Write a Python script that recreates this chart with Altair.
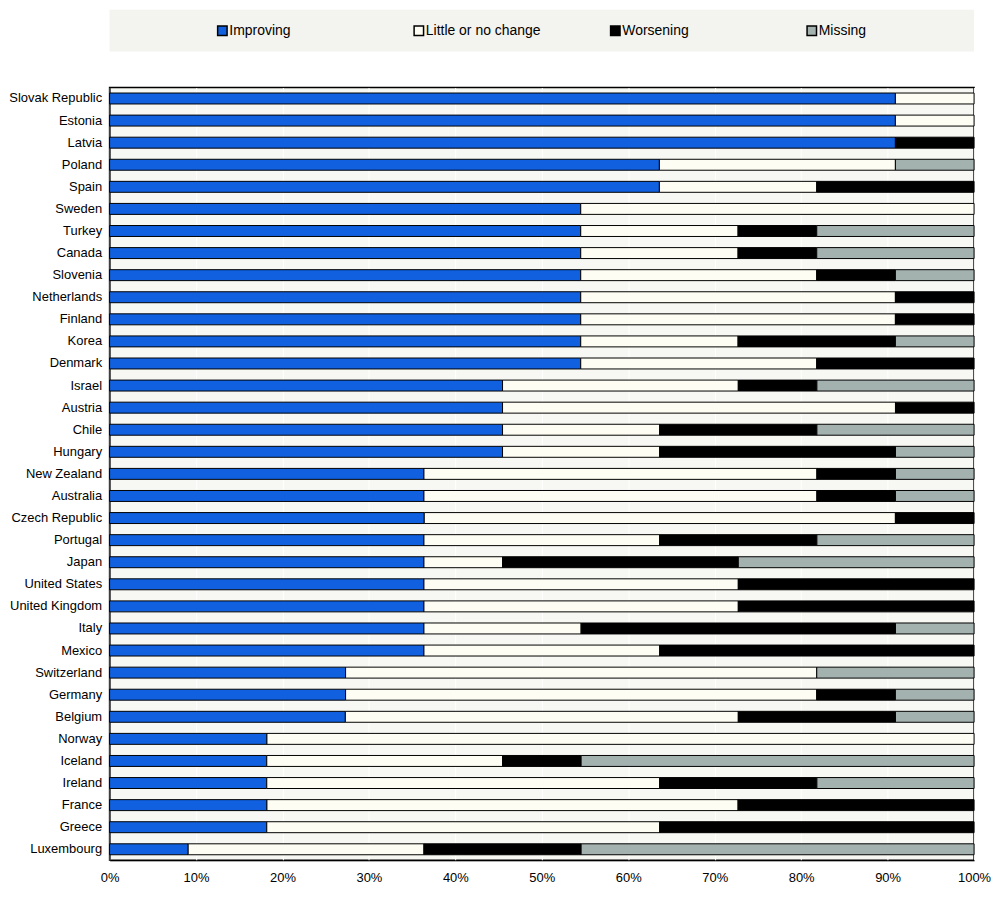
import altair as alt
import pandas as pd

countries = ["Slovak Republic", "Estonia", "Latvia", "Poland", "Spain", "Sweden", "Turkey",
             "Canada", "Slovenia", "Netherlands", "Finland", "Korea", "Denmark", "Israel",
             "Austria", "Chile", "Hungary", "New Zealand", "Australia", "Czech Republic",
             "Portugal", "Japan", "United States", "United Kingdom", "Italy", "Mexico",
             "Switzerland", "Germany", "Belgium", "Norway", "Iceland", "Ireland", "France",
             "Greece", "Luxembourg"]

categories = ["Improving", "Little or no change", "Worsening", "Missing"]
colors = ["#1060e0", "#fdfdf3", "#000000", "#a3b1af"]

improving = [90.9, 90.9, 90.9, 63.6, 63.6, 54.5, 54.5, 54.5, 54.5, 54.5, 54.5, 54.5, 54.5,
             45.5, 45.5, 45.5, 45.5, 36.4, 36.4, 36.4, 36.4, 36.4, 36.4, 36.4, 36.4, 36.4,
             27.3, 27.3, 27.3, 18.2, 18.2, 18.2, 18.2, 18.2, 9.1]
little = [9.1, 9.1, 0, 27.3, 18.2, 45.5, 18.2, 18.2, 27.3, 36.4, 36.4, 18.2, 27.3,
          27.3, 45.5, 18.2, 18.2, 45.5, 45.5, 54.5, 27.3, 9.1, 36.4, 36.4, 18.2, 27.3,
          54.5, 54.5, 45.5, 81.8, 27.3, 45.5, 54.5, 45.5, 27.3]
worsening = [0, 0, 9.1, 0, 18.2, 0, 9.1, 9.1, 9.1, 9.1, 9.1, 18.2, 18.2,
             9.1, 9.1, 18.2, 27.3, 9.1, 9.1, 9.1, 18.2, 27.3, 27.3, 27.3, 36.4, 36.4,
             0, 9.1, 18.2, 0, 9.1, 18.2, 27.3, 36.4, 18.2]
missing = [0, 0, 0, 9.1, 0, 0, 18.2, 18.2, 9.1, 0, 0, 9.1, 0,
           18.2, 0, 18.2, 9.1, 9.1, 9.1, 0, 18.2, 27.3, 0, 0, 9.1, 0,
           18.2, 9.1, 9.1, 0, 45.5, 18.2, 0, 0, 45.5]

x_ticks = [i / 10 for i in range(11)]

rows = []
for i, c in enumerate(countries):
    for k, (cat, vals) in enumerate(zip(categories, [improving, little, worsening, missing])):
        if vals[i] > 0:
            rows.append({"country": c, "category": cat, "order": k, "value": vals[i]})
df = pd.DataFrame(rows)

FONT = "Liberation Sans, Arial, sans-serif"
color_scale = alt.Scale(domain=categories, range=colors)

bars = alt.Chart(df).mark_bar(size=11, stroke="#000000", strokeWidth=1).encode(
    x=alt.X("value:Q", stack="normalize",
            scale=alt.Scale(domain=[0, 1], nice=False),
            axis=alt.Axis(format=".0%", values=x_ticks, title=None, grid=True,
                          gridColor="#ffffff", gridWidth=1, ticks=False,
                          labelPadding=11, labelFlush=False, domainColor="#000000")),
    y=alt.Y("country:N", sort=countries, title=None,
            axis=alt.Axis(ticks=False, labelPadding=8, domainColor="#000000",
                          minExtent=98, maxExtent=98, labelLimit=200)),
    color=alt.Color("category:N", scale=color_scale, legend=None),
    order=alt.Order("order:Q"),
).properties(width=868, height=776)

leg_df = pd.DataFrame({"category": categories})
leg_base = alt.Chart(leg_df).encode(
    x=alt.X("category:N", sort=categories,
            scale=alt.Scale(type="point", padding=0.7, align=0.41), axis=None)
)
leg_sq = leg_base.mark_square(size=90, stroke="#000000", strokeWidth=1.5, opacity=1).encode(
    color=alt.Color("category:N", scale=color_scale, legend=None)
)
leg_txt = leg_base.mark_text(align="left", dx=7, fontSize=14, font=FONT, color="#000000").encode(
    text="category:N"
)
legend_panel = alt.layer(leg_sq, leg_txt).properties(
    width=868, height=42, view=alt.ViewBackground(fill="#f3f3ef", stroke=None)
)

chart = alt.vconcat(legend_panel, bars, spacing=35).configure_view(
    fill="#f7f7f3", stroke="#000000", strokeWidth=1.5
).configure_axis(
    labelFont=FONT, labelFontSize=13, labelColor="#000000"
).configure_concat(spacing=35).properties(background="#ffffff", padding=0)

chart.save("out.html", embed_options={"renderer": "svg", "actions": False})
